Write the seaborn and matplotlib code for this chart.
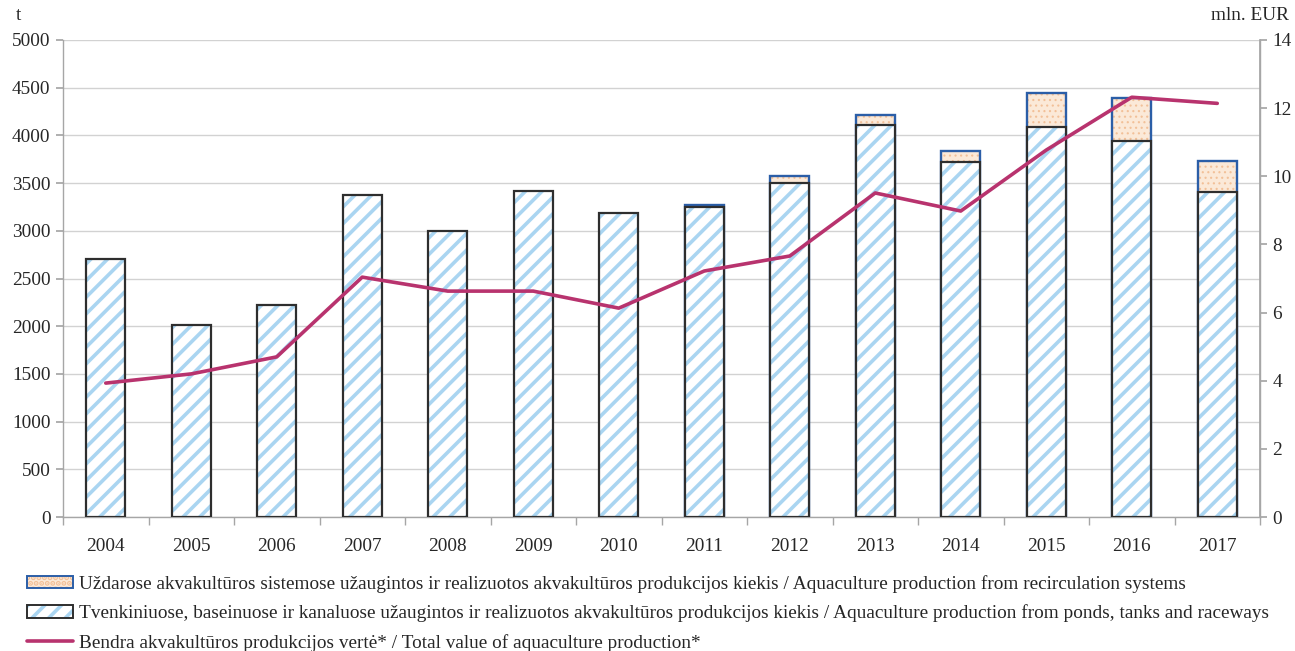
import numpy as np
import pandas as pd
import seaborn as sns
import matplotlib.pyplot as plt
from matplotlib.patches import Patch
from matplotlib.lines import Line2D
from matplotlib.legend_handler import HandlerTuple
from matplotlib.ticker import FixedLocator, MultipleLocator

# ---------------- data ----------------
years = [str(y) for y in range(2004, 2018)]
ponds_t = [2700, 2010, 2220, 3375, 3000, 3415, 3185, 3250, 3500, 4110, 3720, 4090, 3945, 3410]
recirc_t = [0, 0, 0, 0, 0, 0, 0, 20, 75, 105, 115, 355, 450, 325]
value_mln = [3.93, 4.20, 4.70, 7.04, 6.63, 6.63, 6.13, 7.22, 7.66, 9.51, 8.98, 10.77, 12.32, 12.14]

label_recirc = ("Uždarose akvakultūros sistemose užaugintos ir realizuotos akvakultūros produkcijos kiekis"
                " / Aquaculture production from recirculation systems")
label_ponds = ("Tvenkiniuose, baseinuose ir kanaluose užaugintos ir realizuotos akvakultūros produkcijos kiekis"
               " / Aquaculture production from ponds, tanks and raceways")
label_value = "Bendra akvakultūros produkcijos vertė* / Total value of aquaculture production*"

# ---------------- style ----------------
sns.set_theme(style="white")
plt.rcParams['font.family'] = ['Liberation Serif', 'DejaVu Serif']
plt.rcParams['hatch.linewidth'] = 2.6
FS = 13.9

PEACH = '#fbe9d8'
DOTS = '#f2c098'
BLUE_EDGE = '#2b5ea7'
STRIPE = '#aad5f1'
DARK = '#2e2e2e'
LINE = '#b8336e'
GRID = '#d2d2d2'
SPINE = '#a6a6a6'

df = pd.DataFrame({'year': years, 'ponds': ponds_t, 'recirc': recirc_t, 'value': value_mln})
df['total'] = df['ponds'] + df['recirc']

W = 0.455
fig = plt.figure(figsize=(12.95, 6.51), dpi=100)
ax = fig.add_axes([63 / 1295, 1 - 517 / 651, (1260 - 63) / 1295, (517 - 40) / 651])


def style_last(ax, face, edge, lw, hatch, z, hlw=None, hide_zero=False):
    cont = ax.containers[-1]
    for p in cont:
        p.set_facecolor(face)
        p.set_edgecolor(edge)
        p.set_linewidth(lw)
        p.set_hatch(hatch)
        p.set_zorder(z)
        if hlw is not None and hasattr(p, 'set_hatch_linewidth'):
            p.set_hatch_linewidth(hlw)
        if hide_zero and p.get_height() <= 0:
            p.set_visible(False)


def recirc_top(d):
    return d['total'].where(d['recirc'] > 0, 0)


# recirculation part (drawn as full stack, overlaid by ponds part)
sns.barplot(x=df['year'], y=recirc_top(df), width=W, ax=ax, errorbar=None)
style_last(ax, PEACH, DOTS, 0, '...', 2.0, hlw=0.8, hide_zero=True)
sns.barplot(x=df['year'], y=recirc_top(df), width=W, ax=ax, errorbar=None)
style_last(ax, 'none', BLUE_EDGE, 1.7, None, 2.1, hide_zero=True)

# ponds part
sns.barplot(x=df['year'], y=df['ponds'], width=W, ax=ax, errorbar=None)
style_last(ax, 'white', STRIPE, 0, '//', 3.0, hlw=2.6)
sns.barplot(x=df['year'], y=df['ponds'], width=W, ax=ax, errorbar=None)
style_last(ax, 'none', DARK, 1.6, None, 3.1)

ax.set_ylim(0, 5000)
ax.set_xlim(-0.5, len(years) - 0.5)
ax.yaxis.set_major_locator(MultipleLocator(500))
ax.grid(axis='y', color=GRID, lw=1.0, zorder=0)
ax.set_axisbelow(True)
ax.set_xlabel('')
ax.set_ylabel('')
ax.tick_params(axis='y', which='major', length=5, color=SPINE, labelsize=FS, pad=4, left=True)
ax.xaxis.set_minor_locator(FixedLocator(np.arange(-0.5, len(years), 1.0)))
ax.tick_params(axis='x', which='major', length=0, labelsize=FS, pad=15)
ax.tick_params(axis='x', which='minor', length=6, color=SPINE, bottom=True)
for s in ['left', 'bottom', 'right']:
    ax.spines[s].set_color(SPINE)
    ax.spines[s].set_linewidth(1.0)
ax.spines['top'].set_visible(False)

# value line on secondary axis
ax2 = ax.twinx()
sns.pointplot(x=df['year'], y=df['value'], ax=ax2, color=LINE, markers='',
              errorbar=None, linewidth=2.6)
ax2.set_ylim(0, 14)
ax2.set_xlim(-0.5, len(years) - 0.5)
ax2.yaxis.set_major_locator(MultipleLocator(2))
ax2.set_ylabel('')
ax2.set_xlabel('')
ax2.grid(False)
ax2.tick_params(axis='y', which='major', length=5, color=SPINE, labelsize=FS, pad=4, right=True)
for s in ['top', 'left', 'bottom']:
    ax2.spines[s].set_visible(False)
ax2.spines['right'].set_color(SPINE)
ax2.set_zorder(ax.get_zorder() + 1)
ax2.patch.set_visible(False)

# axis unit labels
fig.text(18 / 1295, 1 - 15 / 651, 't', fontsize=FS, ha='center', va='center')
fig.text(1289 / 1295, 1 - 15 / 651, 'mln. EUR', fontsize=FS, ha='right', va='center')

# legend
h_rec = (Patch(facecolor=PEACH, edgecolor=DOTS, hatch='...', lw=0),
         Patch(facecolor='none', edgecolor=BLUE_EDGE, lw=1.4))
h_pond = (Patch(facecolor='white', edgecolor=STRIPE, hatch='//', lw=0),
          Patch(facecolor='none', edgecolor=DARK, lw=1.4))
h_line = Line2D([0], [0], color=LINE, lw=2.6)
fig.legend([h_rec, h_pond, h_line], [label_recirc, label_ponds, label_value],
           handler_map={tuple: HandlerTuple(ndivide=1)},
           loc='upper left', bbox_to_anchor=(27 / 1295, 1 - 575 / 651),
           frameon=False, fontsize=FS, handlelength=2.4, handleheight=0.6,
           handletextpad=0.27, labelspacing=0.6, borderaxespad=0, borderpad=0)

fig.savefig('out.png', dpi=100)
